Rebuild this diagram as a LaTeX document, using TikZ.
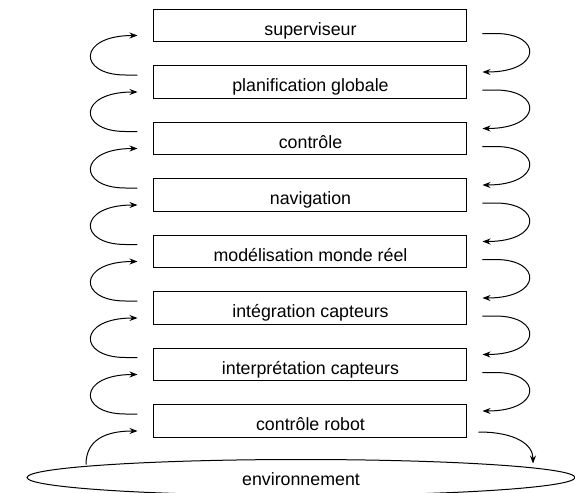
\documentclass[tikz,border=0pt]{standalone}
\usepackage{fontspec}
\setmainfont{Liberation Sans}
\usetikzlibrary{calc,arrows.meta,shapes.geometric}

\tikzset{
    niveau/.style={draw, line width=0.5pt, minimum width=156.5pt, minimum height=16.25pt, inner sep=0pt,
        font=\fontsize{8.9}{10}\selectfont, text height=9.7pt, text depth=0pt},
    fleche/.style={line width=0.5pt, -{Stealth[length=4pt,width=3pt]}},
}

\begin{document}
\begin{tikzpicture}[x=0.5pt, y=-0.5pt]
        \useasboundingbox (0,0) rectangle (575,493);

        % les niveaux
        \foreach \lab [count=\i] in {superviseur, planification globale, contrôle, navigation, modélisation monde réel, intégration capteurs, interprétation capteurs, contrôle robot}
            \node[niveau] (b\i) at (310.5,{25.5+56.5*(\i-1)}) {\lab};

        \node[draw, ellipse, line width=0.5pt, minimum width=274pt, minimum height=18pt, inner sep=0pt,
            font=\fontsize{8.9}{10}\selectfont, text height=7.5pt, text depth=0pt] (env) at (301,477.5) {environnement};

        % boucles gauche et droite
        \foreach \i [evaluate=\i as \j using int(\i+1)] in {1,...,7} {
            \draw[fleche] ($(b\j.west)+(-16,-7)$) -- ($(b\j.west)+(-28,-7)$)
                .. controls ($(b\j.west)+(-76,-7)$) and ($(b\i.west)+(-76,10)$) .. ($(b\i.west)+(-16,10)$);
            \draw[fleche] ($(b\i.east)+(15,8)$) -- ($(b\i.east)+(28,8)$)
                .. controls ($(b\i.east)+(75,8)$) and ($(b\j.east)+(75,-10)$) .. ($(b\j.east)+(15,-10)$);
        }

        % environnement
        \draw[fleche] ($(env.center)+(-215,-13)$) .. controls ($(env.center)+(-215,-37)$) and ($(b8.west)+(-49,10)$) .. ($(b8.west)+(-16,10)$);
        \draw[fleche] ($(b8.east)+(11,11)$) .. controls ($(b8.east)+(48,11)$) and ($(env.center)+(232,-33)$) .. ($(env.center)+(232,-14)$);
\end{tikzpicture}
\end{document}
